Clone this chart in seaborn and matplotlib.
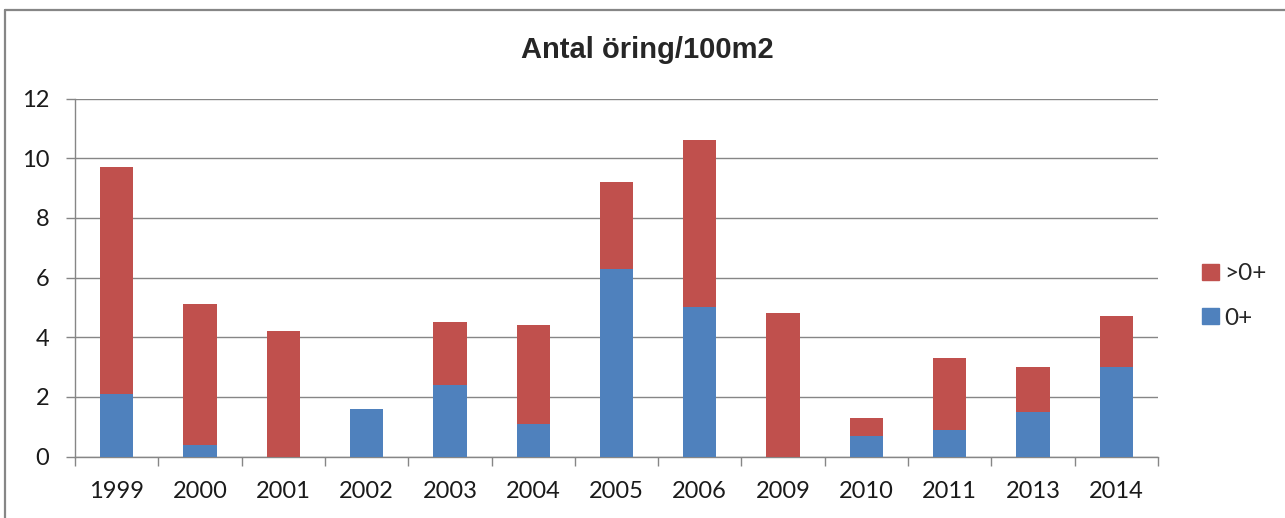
import numpy as np
import pandas as pd
import matplotlib
matplotlib.use("Agg")
import matplotlib.pyplot as plt
from matplotlib.patches import Patch
from matplotlib.lines import Line2D
import seaborn as sns

# values
years = ["1999", "2000", "2001", "2002", "2003", "2004", "2005",
         "2006", "2009", "2010", "2011", "2013", "2014"]
young = [2.1, 0.4, 0.0, 1.6, 2.4, 1.1, 6.3, 5.0, 0.0, 0.7, 0.9, 1.5, 3.0]   # 0+
older = [7.6, 4.7, 4.2, 0.0, 2.1, 3.3, 2.9, 5.6, 4.8, 0.6, 2.4, 1.5, 1.7]   # >0+
y_ticks = [0, 2, 4, 6, 8, 10, 12]

BLUE = "#4F81BD"
RED = "#C0504D"
GRID = "#868686"

df = pd.DataFrame({"year": years, "young": young, "older": older})
df["total"] = df["young"] + df["older"]

sns.set_theme(style="white")
plt.rcParams["font.family"] = ["Lato", "DejaVu Sans"]

fig = plt.figure(figsize=(12.85, 5.18), dpi=100)
ax = fig.add_axes([75 / 1285, 61.5 / 518, 1083 / 1285, 358 / 518])

# stacked: draw the total in red, then the 0+ part in blue on top of it
sns.barplot(data=df, x="year", y="total", color=RED, width=0.4, linewidth=0,
            saturation=1, errorbar=None, ax=ax, zorder=3)
sns.barplot(data=df, x="year", y="young", color=BLUE, width=0.4, linewidth=0,
            saturation=1, errorbar=None, ax=ax, zorder=4)

ax.set_xlim(-0.5, len(years) - 0.5)
ax.set_ylim(0, 12)
ax.set_yticks(y_ticks)
ax.set_xlabel("")
ax.set_ylabel("")

# horizontal grid
ax.yaxis.grid(True, color=GRID, linewidth=1.0, zorder=0)
ax.set_axisbelow(True)

for side in ["top", "right"]:
    ax.spines[side].set_visible(False)
for side in ["left", "bottom"]:
    ax.spines[side].set_color(GRID)
    ax.spines[side].set_linewidth(1.0)

ax.tick_params(axis="y", which="major", direction="out", length=6.5, width=1,
               color=GRID, labelsize=17, pad=12, labelcolor="#1a1a1a", left=True)
ax.tick_params(axis="x", which="major", length=0, labelsize=17, pad=18,
               labelcolor="#1a1a1a")
ax.set_xticks(np.arange(-0.5, len(years)), minor=True)
ax.tick_params(axis="x", which="minor", direction="out", length=6.5, width=1,
               color=GRID, bottom=True)

# title
fig.text(0.504, (518 - 58) / 518, "Antal öring/100m2", ha="center", va="baseline",
         fontsize=21, fontweight="bold", family=["Liberation Sans", "DejaVu Sans"])

# legend
handles = [Patch(facecolor=RED, edgecolor=RED, label=">0+"),
           Patch(facecolor=BLUE, edgecolor=BLUE, label="0+")]
fig.legend(handles=handles, loc="center left", bbox_to_anchor=(1202 / 1285, (518 - 296) / 518),
           frameon=False, fontsize=17.5, handlelength=0.68, handleheight=0.68,
           handletextpad=0.25, labelspacing=0.95, borderpad=0, borderaxespad=0)

# outer chart border (top and left visible)
fig.add_artist(Line2D([5 / 1285, 1.01], [1 - 10 / 518, 1 - 10 / 518],
                      transform=fig.transFigure, color=GRID, linewidth=1.6))
fig.add_artist(Line2D([5 / 1285, 5 / 1285], [-0.01, 1 - 10 / 518],
                      transform=fig.transFigure, color=GRID, linewidth=1.6))

fig.savefig("out.png", dpi=100)
plt.close(fig)
